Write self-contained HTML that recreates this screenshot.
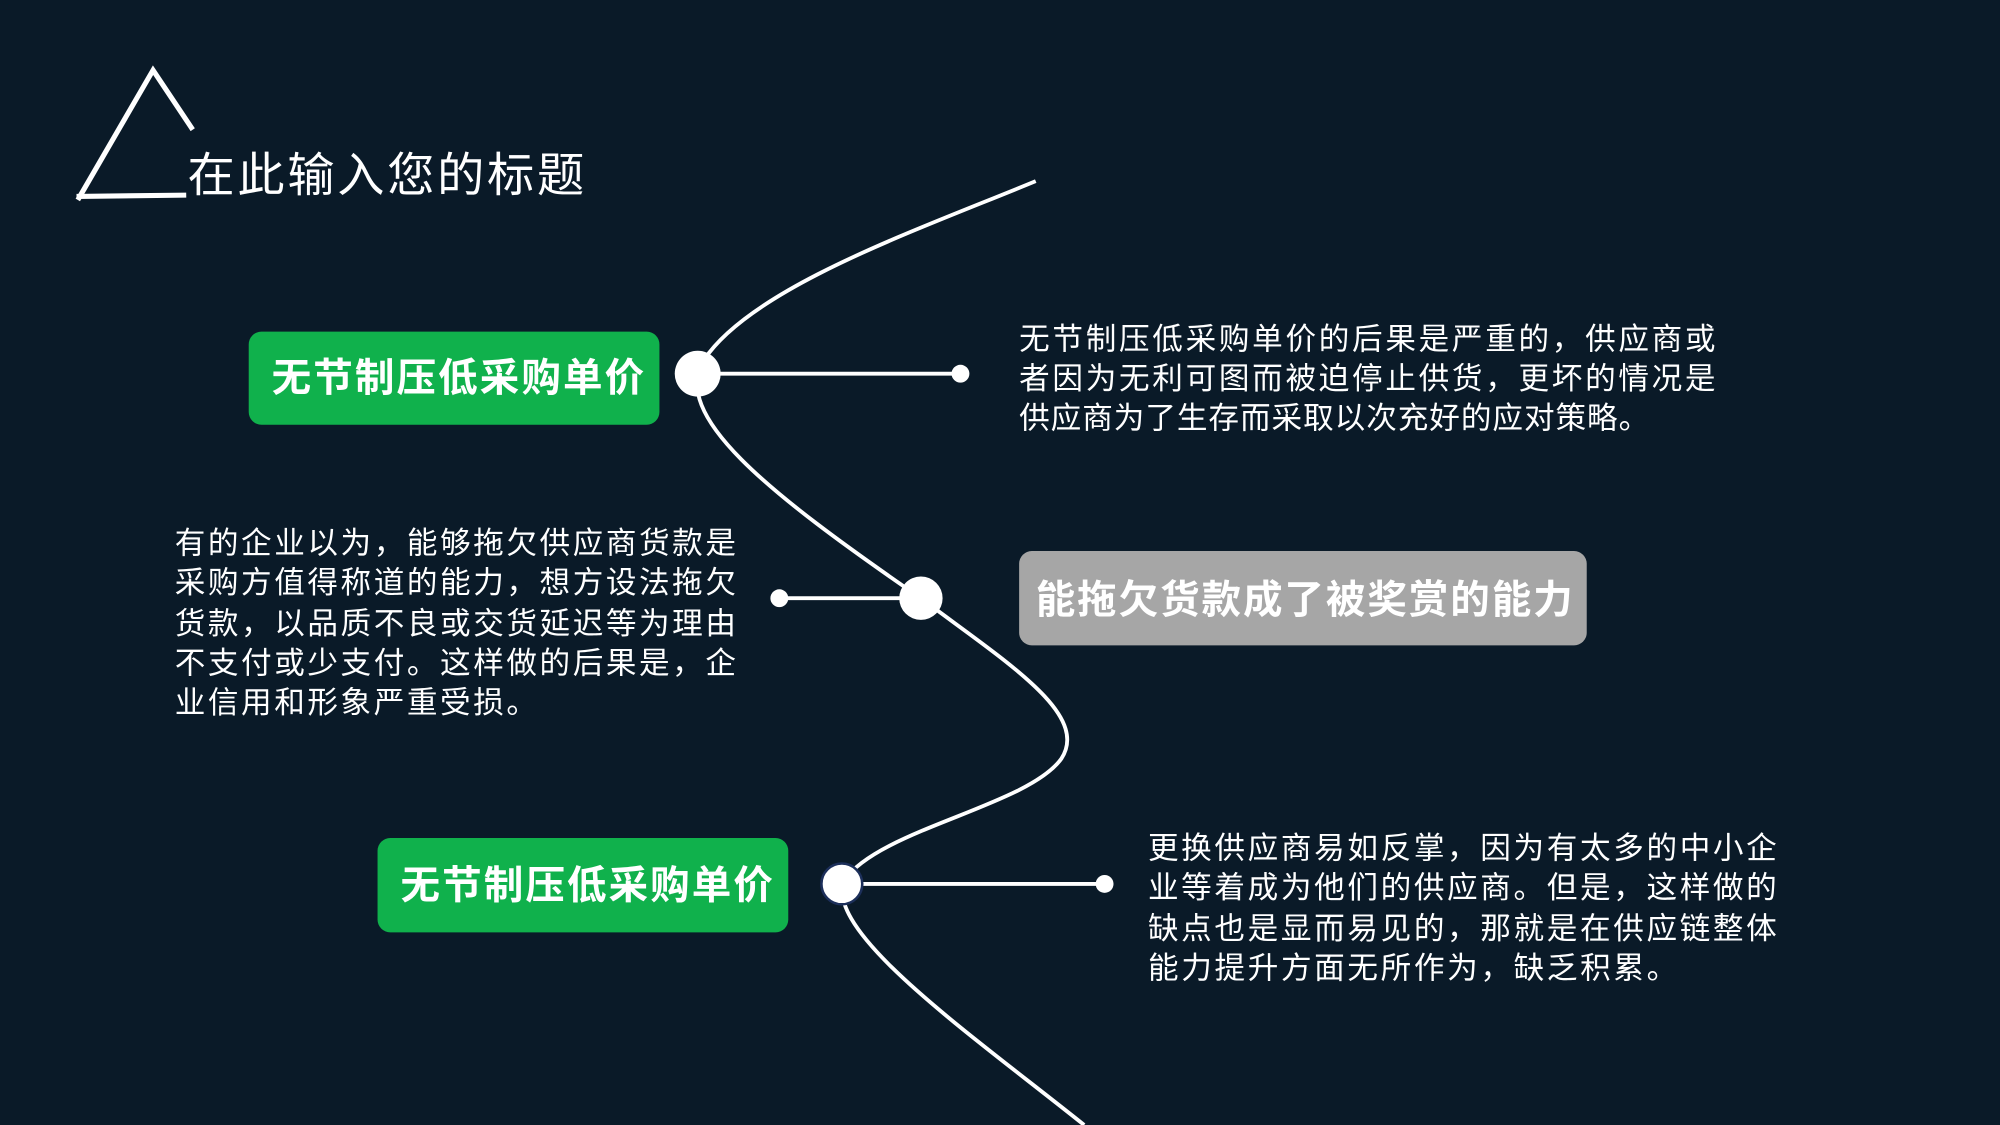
<!DOCTYPE html>
<html><head><meta charset="utf-8"><style>
html,body{margin:0;padding:0;background:#0a1a28;width:2000px;height:1125px;overflow:hidden}
svg{display:block}
text{font-family:"Liberation Sans","Noto Sans CJK SC",sans-serif}
</style></head><body>
<svg width="2000" height="1125" viewBox="0 0 1568 882" preserveAspectRatio="none" xmlns="http://www.w3.org/2000/svg">
<rect width="1568" height="882" fill="#0a1a28"/>
<g fill="none" stroke="#fff" stroke-width="4" stroke-linecap="square">
<path d="M62,155 L120,55 L150,100"/>
<path d="M62,154 L144,153"/>
</g>
<text x="147" y="150" font-size="37" fill="#fff" textLength="311" lengthAdjust="spacing">在此输入您的标题</text>
<path d="M812,142 C720,180 590,225 552,282 C525,325 600,385 722,469 C790,520 855,560 832,595 C805,632 690,650 662,690 C645,730 760,810 850,882" fill="none" stroke="#fff" stroke-width="3"/>
<g stroke="#fff" stroke-width="3">
<line x1="547" y1="293" x2="753" y2="293"/>
<line x1="611" y1="469" x2="722" y2="469"/>
<line x1="660" y1="693" x2="866" y2="693"/>
</g>
<g fill="#fff">
<circle cx="547" cy="293" r="18"/>
<circle cx="753" cy="293" r="7"/>
<circle cx="722" cy="469" r="17"/>
<circle cx="611" cy="469" r="7"/>
<circle cx="660" cy="693" r="16" stroke="#1c2f5a" stroke-width="2"/>
<circle cx="866" cy="693" r="7"/>
</g>
<rect x="195" y="260" width="322" height="73" rx="10" fill="#10b14c"/>
<text x="213" y="307" font-size="31" font-weight="bold" fill="#fff" textLength="292" lengthAdjust="spacing">无节制压低采购单价</text>
<rect x="799" y="432" width="445" height="74" rx="10" fill="#a6a6a6"/>
<text x="812" y="481" font-size="31" font-weight="bold" fill="#fff" textLength="421" lengthAdjust="spacing">能拖欠货款成了被奖赏的能力</text>
<rect x="296" y="657" width="322" height="74" rx="10" fill="#10b14c"/>
<text x="314" y="705" font-size="31" font-weight="bold" fill="#fff" textLength="292" lengthAdjust="spacing">无节制压低采购单价</text>
<g font-size="24" fill="#fff" lengthAdjust="spacing">
<text x="799" y="274" textLength="546" lengthAdjust="spacing">无节制压低采购单价的后果是严重的，供应商或</text>
<text x="799" y="305" textLength="546" lengthAdjust="spacing">者因为无利可图而被迫停止供货，更坏的情况是</text>
<text x="799" y="336" textLength="494" lengthAdjust="spacing">供应商为了生存而采取以次充好的应对策略。</text>
<text x="137" y="434" textLength="440" lengthAdjust="spacing">有的企业以为，能够拖欠供应商货款是</text>
<text x="137" y="465" textLength="440" lengthAdjust="spacing">采购方值得称道的能力，想方设法拖欠</text>
<text x="137" y="497" textLength="440" lengthAdjust="spacing">货款，以品质不良或交货延迟等为理由</text>
<text x="137" y="528" textLength="440" lengthAdjust="spacing">不支付或少支付。这样做的后果是，企</text>
<text x="137" y="559" textLength="284" lengthAdjust="spacing">业信用和形象严重受损。</text>
<text x="900" y="673" textLength="493" lengthAdjust="spacing">更换供应商易如反掌，因为有太多的中小企</text>
<text x="900" y="704" textLength="493" lengthAdjust="spacing">业等着成为他们的供应商。但是，这样做的</text>
<text x="900" y="736" textLength="493" lengthAdjust="spacing">缺点也是显而易见的，那就是在供应链整体</text>
<text x="900" y="767" textLength="415" lengthAdjust="spacing">能力提升方面无所作为，缺乏积累。</text>
</g>
</svg>
</body></html>
